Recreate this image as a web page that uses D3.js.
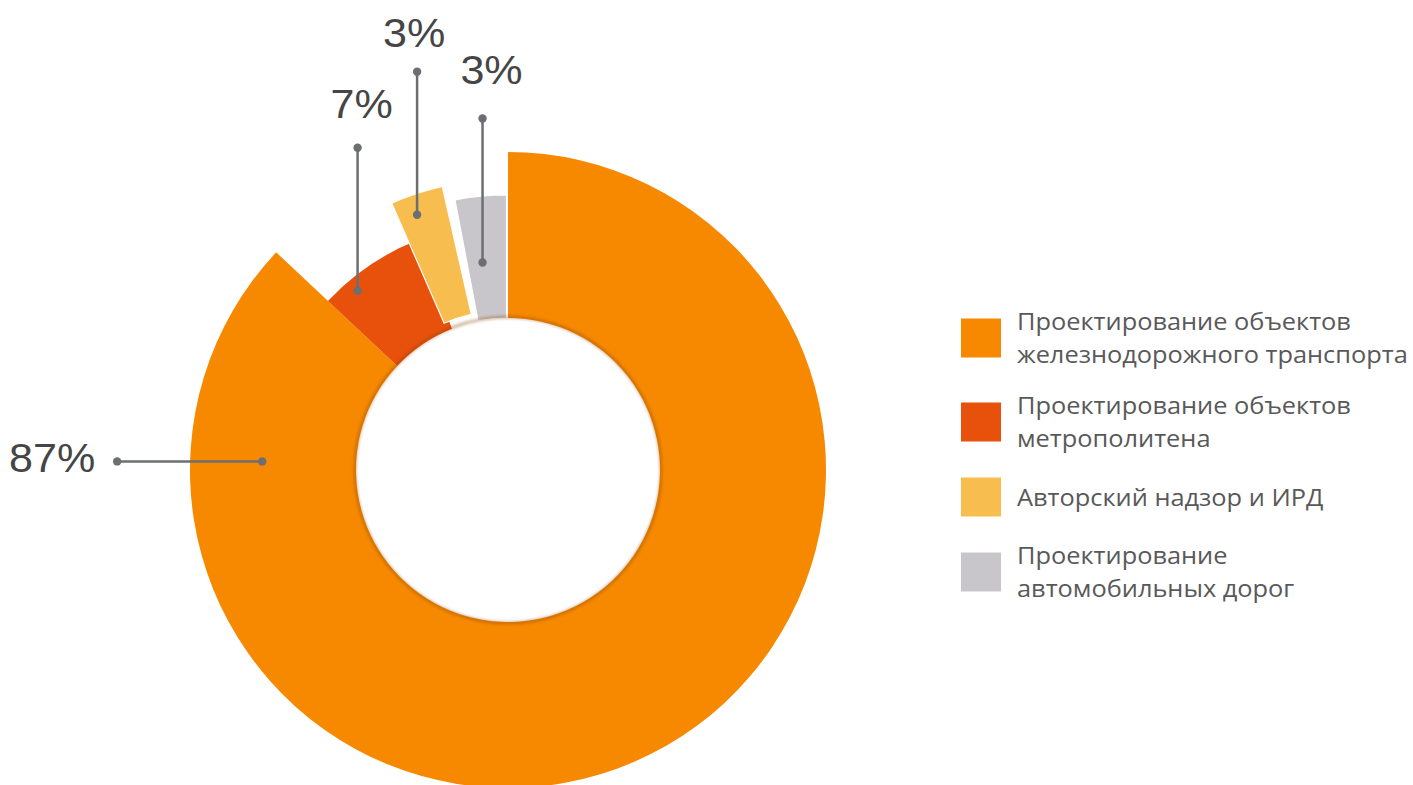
<!DOCTYPE html>
<html>
<head>
<meta charset="utf-8">
<script src="https://cdn.jsdelivr.net/npm/d3@7"></script>
<style>
  body { margin: 0; background: #fff; }
</style>
</head>
<body>
<script>
// data
var categories = [
  "Проектирование объектов\nжелезнодорожного транспорта",
  "Проектирование объектов\nметрополитена",
  "Авторский надзор и ИРД",
  "Проектирование\nавтомобильных дорог"
];
var shares = [87, 7, 3, 3];

// styles / layout
var colors = ["#f68900", "#e8510c", "#f8bd4f", "#c8c6ca"];
var width = 1413, height = 785;
var cx = 508, cy = 470, innerR = 152;
var outerR = [318, 247, 283, 275];
// small pulled-out piece: shift + turn (deg)
var explode = [[0, 0, 0], [0, 0, 0], [-3, -7.5, -2], [-1.5, 0, 0]];
// where each leader starts (deg from 12 o'clock, radius), direction and length
var leaders = [
  {a: 272, r: 246, dir: "left", len: 145, dx: -22, dy: 11},
  {a: 320, r: 234, dir: "up", len: 143, dx: 4, dy: -30},
  {a: 340.4, r: 271, dir: "up", len: 143, dx: -3, dy: -25},
  {a: 353, r: 209, dir: "up", len: 144, dx: 9, dy: -35}
];
var legendX = 961, legendTextX = 1017, legendY = [338, 422, 497, 572];

var svg = d3.select("body").append("svg")
  .attr("width", width)
  .attr("height", height);

var defs = svg.append("defs");
defs.append("filter").attr("id", "soft")
  .attr("x", "-20%").attr("y", "-20%").attr("width", "140%").attr("height", "140%")
  .append("feGaussianBlur").attr("stdDeviation", 1.6);

var pie = d3.pie().sort(null).value(function(d) { return d; });
var arcs = pie(shares);

var ring = svg.append("g").attr("transform", "translate(" + cx + "," + cy + ")");

ring.selectAll("path.slice")
  .data(arcs)
  .enter().append("path")
  .attr("class", "slice")
  .attr("transform", function(d, i) {
    return "translate(" + explode[i][0] + "," + explode[i][1] + ") rotate(" + explode[i][2] + ")";
  })
  .attr("d", function(d, i) {
    return d3.arc().innerRadius(innerR).outerRadius(outerR[i])(d);
  })
  .attr("fill", function(d, i) { return colors[i]; })
  .attr("stroke", function(d, i) { return i >= 2 ? "#fff" : "none"; })
  .attr("stroke-width", 1.2);

// soft dark rim round the hole
ring.append("circle")
  .attr("r", innerR + 1)
  .attr("fill", "none")
  .attr("stroke", "#8a4300")
  .attr("stroke-width", 2.5)
  .attr("opacity", 0.45)
  .attr("filter", "url(#soft)");

// leader lines + labels
function polar(deg, r) {
  var a = deg * Math.PI / 180;
  return [cx + r * Math.sin(a), cy - r * Math.cos(a)];
}

var lab = svg.append("g");
leaders.forEach(function(l, i) {
  var p = polar(l.a, l.r);
  var q = l.dir == "left" ? [p[0] - l.len, p[1]] : [p[0], p[1] - l.len];
  lab.append("line")
    .attr("x1", p[0]).attr("y1", p[1])
    .attr("x2", q[0]).attr("y2", q[1])
    .attr("stroke", "#6c6e71")
    .attr("stroke-width", 2.5);
  [p, q].forEach(function(pt) {
    lab.append("circle")
      .attr("cx", pt[0]).attr("cy", pt[1])
      .attr("r", 4.2)
      .attr("fill", "#6c6e71");
  });
  var tx = q[0] + l.dx, ty = q[1] + l.dy;
  lab.append("text")
    .attr("transform", "translate(" + tx + "," + ty + ") scale(1.05,1)")
    .attr("text-anchor", l.dir == "left" ? "end" : "middle")
    .attr("font-family", "Liberation Sans, Arial, sans-serif")
    .attr("font-size", 41)
    .attr("fill", "#454545")
    .text(shares[i] + "%");
});

// legend
var legend = svg.append("g");
categories.forEach(function(c, i) {
  var lines = c.split("\n");
  legend.append("rect")
    .attr("x", legendX)
    .attr("y", legendY[i] - 19.5)
    .attr("width", 40)
    .attr("height", 39)
    .attr("fill", colors[i]);
  var t = legend.append("text")
    .attr("transform", "translate(" + legendTextX + ",0) scale(1.08,1)")
    .attr("font-family", "Open Sans, sans-serif")
    .attr("font-size", 23.5)
    .attr("fill", "#595959");
  lines.forEach(function(s, k) {
    t.append("tspan")
      .attr("x", 0)
      .attr("y", legendY[i] + 9 - (lines.length - 1) * 16.5 + k * 33)
      .text(s);
  });
});
</script>
</body>
</html>
